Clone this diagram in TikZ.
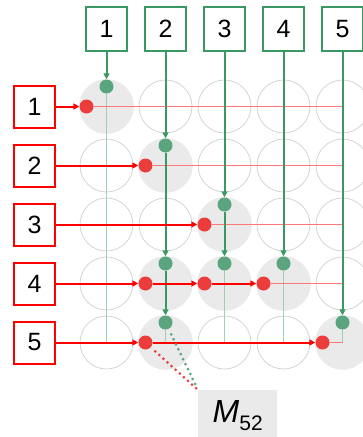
\documentclass[tikz,border=0pt]{standalone}
\usepackage{fontspec}
\setmainfont{Liberation Sans}
\usetikzlibrary{arrows.meta}
\definecolor{gdark}{RGB}{58,152,98}
\definecolor{gdot}{RGB}{90,165,125}
\definecolor{glight}{RGB}{160,207,178}
\definecolor{rdark}{RGB}{255,0,0}
\definecolor{rdot}{RGB}{236,60,60}
\definecolor{rlight}{RGB}{255,120,120}
\definecolor{cellfill}{RGB}{234,234,234}
\definecolor{cellline}{RGB}{212,212,212}
\pgfdeclarelayer{cells}
\pgfdeclarelayer{lines}
\pgfsetlayers{cells,lines,main}
\begin{document}
\begin{tikzpicture}[x=1pt,y=-1pt,
  cell/.style={circle, draw=cellline, line width=0.8pt, minimum size=53pt, inner sep=0pt},
  activecell/.style={circle, fill=cellfill, minimum size=54.5pt, inner sep=0pt},
  rdotst/.style={circle, fill=rdot, minimum size=14pt, inner sep=0pt},
  gdotst/.style={circle, fill=gdot, minimum size=14pt, inner sep=0pt},
  gbox/.style={draw=gdark, line width=2pt, fill=white, minimum width=41pt, minimum height=44pt, inner sep=0pt, font=\fontsize{25}{25}\selectfont},
  rbox/.style={draw=rdark, line width=2pt, fill=white, minimum width=41pt, minimum height=42pt, inner sep=0pt, font=\fontsize{25}{25}\selectfont},
  garrow/.style={draw=gdark, line width=2pt, -{Triangle[length=6pt,width=6pt]}},
  rarrow/.style={draw=rdark, line width=2pt, -{Triangle[length=6pt,width=6pt]}},
  glightline/.style={draw=glight, line width=1.5pt},
  rlightline/.style={draw=rlight, line width=1.3pt},
  gdotted/.style={draw=gdot, line width=3pt, line cap=round, dash pattern=on 0pt off 5.5pt},
  rdotted/.style={draw=rdot, line width=3pt, line cap=round, dash pattern=on 0pt off 5.5pt},
  labelbox/.style={fill=cellfill, minimum width=79pt, minimum height=50pt, inner sep=0pt, anchor=north west}
]
\useasboundingbox (0,0) rectangle (363,437);
% grid cells
\begin{pgfonlayer}{cells}
\foreach \i/\y in {1/106.5,2/165.5,3/224.5,4/283.5,5/342.5}
  \foreach \j/\x in {1/106.5,2/165.5,3/224.5,4/283.5,5/342.5}
    \node[cell] (c-\i-\j) at (\x,\y) {};
\foreach \i/\j in {1/1,2/2,3/3,4/2,4/3,4/4,5/2,5/5}
  \node[activecell] (a-\i-\j) at (c-\i-\j) {};
\end{pgfonlayer}
% dots
\foreach \i/\j in {1/1,2/2,3/3,4/2,4/3,4/4,5/2,5/5} {
  \node[rdotst, xshift=-20pt] (r-\i-\j) at (c-\i-\j) {};
  \node[gdotst, yshift=20pt] (g-\i-\j) at (c-\i-\j) {};
}
% boxes
\foreach \j/\x in {1/106.5,2/165.5,3/224.5,4/283.5,5/342.5}
  \node[gbox] (t-\j) at (\x,29) {\j};
\foreach \i/\y in {1/106.5,2/165.5,3/224.5,4/283.5,5/342.5}
  \node[rbox] (l-\i) at (34.5,\y) {\i};
% label
\node[labelbox] (m52) at (198,390) {{\fontsize{32}{32}\selectfont\itshape M}\raisebox{-8pt}{\fontsize{21}{21}\selectfont 52}};
% lines
\begin{pgfonlayer}{lines}
% light
\draw[glightline] (g-1-1) -- (c-5-1.center);
\draw[glightline] (g-5-2) -- (c-5-2.center);
\draw[glightline] (g-4-3) -- (c-5-3.center);
\draw[glightline] (g-4-4) -- (c-5-4.center);
\draw[glightline] (g-5-5) -- (c-5-5.center);
\draw[rlightline] (r-1-1) -- (c-1-5.center);
\draw[rlightline] (r-2-2) -- (c-2-5.center);
\draw[rlightline] (r-3-3) -- (c-3-5.center);
\draw[rlightline] (r-4-4) -- (c-4-5.center);
\draw[rlightline] (r-5-5) -- (c-5-5.center);
% dark green
\draw[garrow] (t-1) -- (g-1-1);
\draw[garrow] (t-2) -- (g-2-2);
\draw[garrow] (g-2-2) -- (g-4-2);
\draw[garrow] (g-4-2) -- (g-5-2);
\draw[garrow] (t-3) -- (g-3-3);
\draw[garrow] (g-3-3) -- (g-4-3);
\draw[garrow] (t-4) -- (g-4-4);
\draw[garrow] (t-5) -- (g-5-5);
% dark red
\draw[rarrow] (l-1) -- (r-1-1);
\draw[rarrow] (l-2) -- (r-2-2);
\draw[rarrow] (l-3) -- (r-3-3);
\draw[rarrow] (l-4) -- (r-4-2);
\draw[rarrow] (r-4-2) -- (r-4-3);
\draw[rarrow] (r-4-3) -- (r-4-4);
\draw[rarrow] (l-5) -- (r-5-2);
\draw[rarrow] (r-5-2) -- (r-5-5);
% dotted
\draw[rdotted, shorten <=6pt] (r-5-2) -- (m52.north west);
\draw[gdotted, shorten <=6pt, shorten >=2pt] (g-5-2) -- (m52.north west);
\end{pgfonlayer}
\end{tikzpicture}
\end{document}
